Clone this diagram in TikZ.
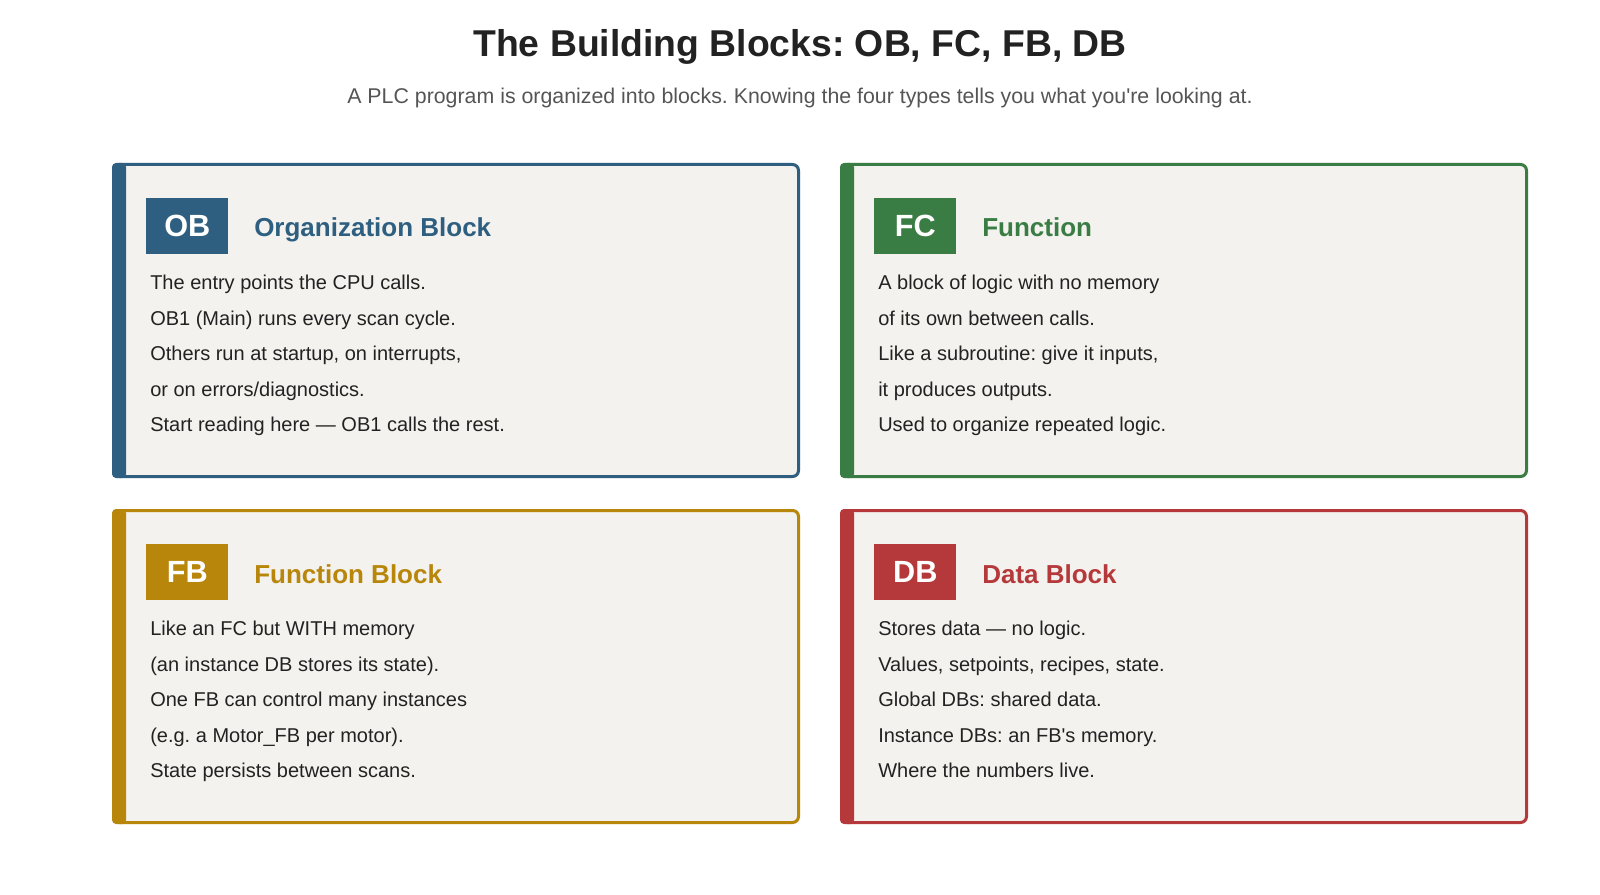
\documentclass[tikz,border=0pt]{standalone}
\usepackage{fontspec}
\setmainfont{Liberation Sans}[Ligatures=TeXOff]
\definecolor{cob}{HTML}{2E5F80}
\definecolor{cfc}{HTML}{3A7D44}
\definecolor{cfb}{HTML}{B8860B}
\definecolor{cdb}{HTML}{B5393B}
\definecolor{cardbg}{HTML}{F4F2EE}
\definecolor{txt}{HTML}{222222}
\definecolor{sub}{HTML}{555555}
\begin{document}
\frenchspacing
\begin{tikzpicture}[x=0.75pt,y=-0.75pt,
 badge/.style={fill=#1,text=white,font=\fontsize{23}{26}\selectfont\bfseries,minimum width=61.5pt,minimum height=42pt,inner sep=0pt,anchor=north west},
 ctitle/.style={text=#1,font=\fontsize{19.5}{22}\selectfont\bfseries,anchor=base west,inner sep=0pt},
 body/.style={text=txt,font=\fontsize{15}{26.6}\selectfont,anchor=north west,align=left,inner sep=0pt}]
\useasboundingbox (0,0) rectangle (1600,895);
\node[font=\fontsize{28}{31}\selectfont\bfseries,text=txt] (title) at (800,47) {The Building Blocks: OB, FC, FB, DB};
\node[font=\fontsize{16}{19}\selectfont,text=sub] (subt) at (800,98) {A PLC program is organized into blocks. Knowing the four types tells you what you're looking at.};
\newcommand{\card}[7]{%
 \begin{scope}[shift={(#1,#2)}]
 \fill[cardbg,rounded corners=4.5pt] (0,0) rectangle (688,315);
 \fill[#3,rounded corners=3pt] (0,0) rectangle (14,315);
 \draw[#3,line width=2.25pt,rounded corners=4.5pt] (1.5,1.5) rectangle (686.5,313.5);
 \node[badge=#3] (b#4) at (34,35) {#4};
 \node[ctitle=#3] (t#4) at (142,74) {#5};
 \node[body] (x#4) at (38,112) {#6};
 \end{scope}}
\card{112}{163}{cob}{OB}{Organization Block}{The entry points the CPU calls.\\OB1 (Main) runs every scan cycle.\\Others run at startup, on interrupts,\\or on errors/diagnostics.\\Start reading here — OB1 calls the rest.}{}
\card{840}{163}{cfc}{FC}{Function}{A block of logic with no memory\\of its own between calls.\\Like a subroutine: give it inputs,\\it produces outputs.\\Used to organize repeated logic.}{}
\card{112}{509}{cfb}{FB}{Function Block}{Like an FC but WITH memory\\(an instance DB stores its state).\\One FB can control many instances\\(e.g. a Motor\_FB per motor).\\State persists between scans.}{}
\card{840}{509}{cdb}{DB}{Data Block}{Stores data — no logic.\\Values, setpoints, recipes, state.\\Global DBs: shared data.\\Instance DBs: an FB's memory.\\Where the numbers live.}{}
\end{tikzpicture}
\end{document}
